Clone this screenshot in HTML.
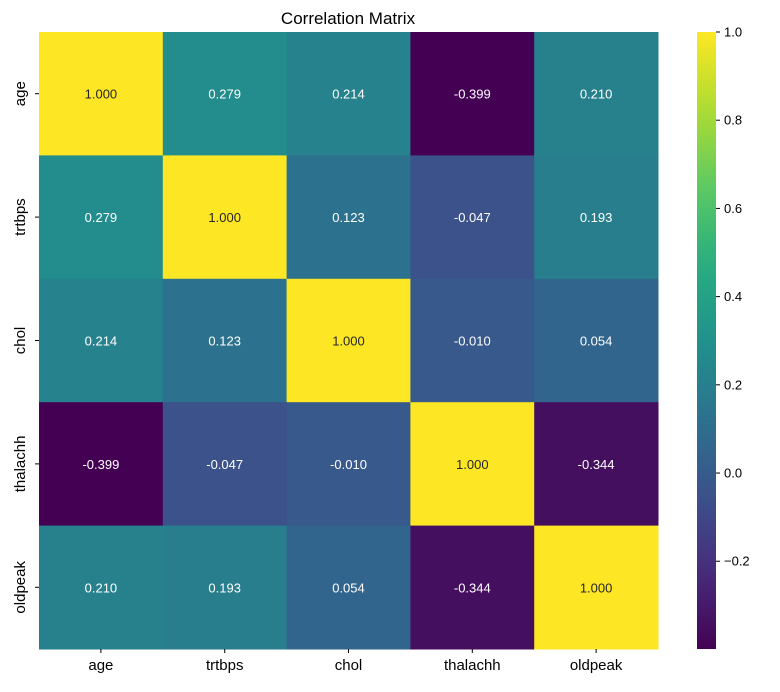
<!DOCTYPE html>
<html><head><meta charset="utf-8"><style>
body{margin:0;background:#fff}
svg text{font-family:"Liberation Sans","DejaVu Sans",sans-serif;fill:#000}
</style></head><body>
<svg id="chart" width="780" height="687" xmlns="http://www.w3.org/2000/svg">
<text x="348" y="24" text-anchor="middle" font-size="17">Correlation Matrix</text>
<defs><linearGradient id="vg" x1="0" y1="1" x2="0" y2="0"></linearGradient></defs>
<g id="cells"></g><g id="xt"></g><g id="yt"></g><g id="cb"></g>
</svg>
<script>
const labels=["age","trtbps","chol","thalachh","oldpeak"];
const row0=[1.000,0.279,0.214,-0.399,0.210];
const row1=[0.279,1.000,0.123,-0.047,0.193];
const row2=[0.214,0.123,1.000,-0.010,0.054];
const row3=[-0.399,-0.047,-0.010,1.000,-0.344];
const row4=[0.210,0.193,0.054,-0.344,1.000];
const matrix=[row0,row1,row2,row3,row4];
const cbTicks=[1.0,0.8,0.6,0.4,0.2,0.0,-0.2];
const vmin=-0.399,vmax=1.0;
const X0=39,X1=658,Y0=32,Y1=649;
const stops=["#440154","#472d7b","#3b528b","#2c728e","#21918c","#28ae80","#5ec962","#addc30","#fde725"];
function hx(h){return [1,3,5].map(i=>parseInt(h.substr(i,2),16));}
function viridis(t){t=Math.max(0,Math.min(1,t));const p=t*8,i=Math.min(7,Math.floor(p)),f=p-i;const a=hx(stops[i]),b=hx(stops[i+1]);return a.map((v,k)=>Math.round(v+(b[k]-v)*f));}
const NS="http://www.w3.org/2000/svg";
function mk(tag,attrs,parent){const e=document.createElementNS(NS,tag);for(const k in attrs)e.setAttribute(k,attrs[k]);parent.appendChild(e);return e;}
const n=labels.length,cw=(X1-X0)/n,ch=(Y1-Y0)/n;
const xs=i=>X0+i*cw, ys=j=>Y0+j*ch;
const cells=document.getElementById('cells');
matrix.forEach((row,j)=>row.forEach((v,i)=>{
 const c=viridis((v-vmin)/(vmax-vmin));
 const r=mk('rect',{x:xs(i),y:ys(j),width:cw+0.5,height:ch+0.5,fill:`rgb(${c})`},cells);
 
 
 const lum=(0.2126*c[0]+0.7152*c[1]+0.0722*c[2])/255;
 const t=mk('text',{x:xs(i)+cw/2,y:ys(j)+ch/2+5,'text-anchor':'middle','font-size':13},cells);
 t.style.fill=lum>0.6?'#262626':'#ffffff';
 t.textContent=v.toFixed(3);
 
 
}));
const xt=document.getElementById('xt'),yt=document.getElementById('yt');
labels.forEach((l,i)=>{
 const cx=xs(i)+cw/2;
 mk('line',{x1:cx,x2:cx,y1:Y1,y2:Y1+4,stroke:'#000'},xt);
 const t=mk('text',{x:cx,y:Y1+21,'text-anchor':'middle','font-size':15},xt);t.textContent=l;
 
 
 const cy=ys(i)+ch/2;
 mk('line',{x1:X0-4,x2:X0,y1:cy,y2:cy,stroke:'#000'},yt);
 const u=mk('text',{x:0,y:0,'text-anchor':'middle','font-size':15,transform:`translate(25,${cy}) rotate(-90)`},yt);u.textContent=l;
 
 
});
const cb=document.getElementById('cb');const g=document.getElementById('vg');
for(let k=0;k<=20;k++){const c=viridis(k/20);mk('stop',{offset:k/20,'stop-color':`rgb(${c})`},g);}
const CX=697,CW=19;
const cbr=mk('rect',{x:CX,y:Y0,width:CW,height:Y1-Y0,fill:'url(#vg)'},cb);


const cy=v=>Y1-(v-vmin)/(vmax-vmin)*(Y1-Y0);
cbTicks.forEach(v=>{
 const y=cy(v);
 mk('line',{x1:CX+CW,x2:CX+CW+4,y1:y,y2:y,stroke:'#000'},cb);
 const t=mk('text',{x:CX+CW+8,y:y+4.5,'font-size':13},cb);t.textContent=v.toFixed(1).replace('-','\u2212');
 
 
});
</script>
</body></html>
